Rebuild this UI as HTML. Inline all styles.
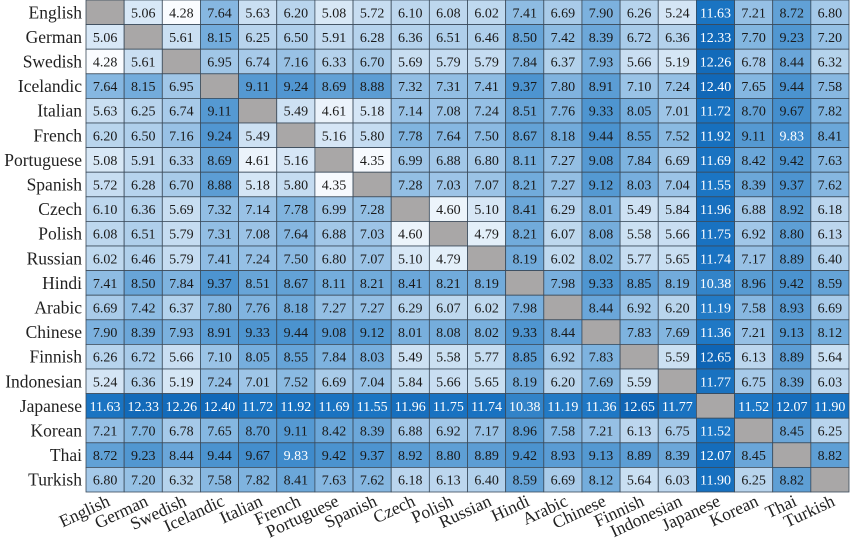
<!DOCTYPE html>
<html><head><meta charset="utf-8">
<style>
body{margin:0;background:#fff;width:850px;height:551px;overflow:hidden}
svg{display:block}
</style></head><body>
<svg id="s" width="850" height="551" xmlns="http://www.w3.org/2000/svg" font-family="Liberation Serif, serif"></svg>
<script>
const L=["English","German","Swedish","Icelandic","Italian","French","Portuguese","Spanish","Czech","Polish","Russian","Hindi","Arabic","Chinese","Finnish","Indonesian","Japanese","Korean","Thai","Turkish"];
const D=`0,5.06,4.28,7.64,5.63,6.20,5.08,5.72,6.10,6.08,6.02,7.41,6.69,7.90,6.26,5.24,11.63,7.21,8.72,6.80
5.06,0,5.61,8.15,6.25,6.50,5.91,6.28,6.36,6.51,6.46,8.50,7.42,8.39,6.72,6.36,12.33,7.70,9.23,7.20
4.28,5.61,0,6.95,6.74,7.16,6.33,6.70,5.69,5.79,5.79,7.84,6.37,7.93,5.66,5.19,12.26,6.78,8.44,6.32
7.64,8.15,6.95,0,9.11,9.24,8.69,8.88,7.32,7.31,7.41,9.37,7.80,8.91,7.10,7.24,12.40,7.65,9.44,7.58
5.63,6.25,6.74,9.11,0,5.49,4.61,5.18,7.14,7.08,7.24,8.51,7.76,9.33,8.05,7.01,11.72,8.70,9.67,7.82
6.20,6.50,7.16,9.24,5.49,0,5.16,5.80,7.78,7.64,7.50,8.67,8.18,9.44,8.55,7.52,11.92,9.11,9.83,8.41
5.08,5.91,6.33,8.69,4.61,5.16,0,4.35,6.99,6.88,6.80,8.11,7.27,9.08,7.84,6.69,11.69,8.42,9.42,7.63
5.72,6.28,6.70,8.88,5.18,5.80,4.35,0,7.28,7.03,7.07,8.21,7.27,9.12,8.03,7.04,11.55,8.39,9.37,7.62
6.10,6.36,5.69,7.32,7.14,7.78,6.99,7.28,0,4.60,5.10,8.41,6.29,8.01,5.49,5.84,11.96,6.88,8.92,6.18
6.08,6.51,5.79,7.31,7.08,7.64,6.88,7.03,4.60,0,4.79,8.21,6.07,8.08,5.58,5.66,11.75,6.92,8.80,6.13
6.02,6.46,5.79,7.41,7.24,7.50,6.80,7.07,5.10,4.79,0,8.19,6.02,8.02,5.77,5.65,11.74,7.17,8.89,6.40
7.41,8.50,7.84,9.37,8.51,8.67,8.11,8.21,8.41,8.21,8.19,0,7.98,9.33,8.85,8.19,10.38,8.96,9.42,8.59
6.69,7.42,6.37,7.80,7.76,8.18,7.27,7.27,6.29,6.07,6.02,7.98,0,8.44,6.92,6.20,11.19,7.58,8.93,6.69
7.90,8.39,7.93,8.91,9.33,9.44,9.08,9.12,8.01,8.08,8.02,9.33,8.44,0,7.83,7.69,11.36,7.21,9.13,8.12
6.26,6.72,5.66,7.10,8.05,8.55,7.84,8.03,5.49,5.58,5.77,8.85,6.92,7.83,0,5.59,12.65,6.13,8.89,5.64
5.24,6.36,5.19,7.24,7.01,7.52,6.69,7.04,5.84,5.66,5.65,8.19,6.20,7.69,5.59,0,11.77,6.75,8.39,6.03
11.63,12.33,12.26,12.40,11.72,11.92,11.69,11.55,11.96,11.75,11.74,10.38,11.19,11.36,12.65,11.77,0,11.52,12.07,11.90
7.21,7.70,6.78,7.65,8.70,9.11,8.42,8.39,6.88,6.92,7.17,8.96,7.58,7.21,6.13,6.75,11.52,0,8.45,6.25
8.72,9.23,8.44,9.44,9.67,9.83,9.42,9.37,8.92,8.80,8.89,9.42,8.93,9.13,8.89,8.39,12.07,8.45,0,8.82
6.80,7.20,6.32,7.58,7.82,8.41,7.63,7.62,6.18,6.13,6.40,8.59,6.69,8.12,5.64,6.03,11.90,6.25,8.82,0`.split("\n").map(r=>r.split(",").map(Number));
const stops=[[4.28,[250,252,255]],[5,[218,233,247]],[6,[192,217,239]],[7,[158,197,231]],[8,[120,175,221]],[9,[88,155,211]],[10,[58,136,202]],[11.5,[28,118,196]],[12.7,[14,100,180]]];
function col(v){for(let i=0;i<stops.length-1;i++){const[a,ca]=stops[i],[b,cb]=stops[i+1];if(v<=b){const t=Math.max(0,(v-a)/(b-a));return "rgb("+ca.map((c,k)=>Math.round(c+(cb[k]-c)*t)).join(",")+")";}}return "rgb(14,100,180)";}
const x0=86,y0=0,cw=38.15,ch=24.6;let h="";
for(let r=0;r<20;r++){
 h+=`<text x="82" y="${y0+r*ch+ch/2+6}" text-anchor="end" font-size="17.5" fill="#222">${L[r]}</text>`;
 for(let c=0;c<20;c++){const v=D[r][c],x=x0+c*cw,y=y0+r*ch;
  h+=`<rect x="${x}" y="${y}" width="${cw}" height="${ch}" fill="${v?col(v):'#a9a7a7'}" stroke="#3a4a5a" stroke-width="0.8"/>`;
  if(v)h+=`<text x="${x+cw/2}" y="${y+ch/2+5}" text-anchor="middle" font-size="14" fill="${v>=9.8?'#fff':'#1a1a1a'}">${v.toFixed(2)}</text>`;}
}
for(let c=0;c<20;c++){const cx=x0+c*cw+cw/2+6,cy=505;
 h+=`<text transform="translate(${cx},${cy}) rotate(-25)" text-anchor="end" font-size="17.5" fill="#222">${L[c]}</text>`;}
document.getElementById("s").innerHTML=h;
</script>
</body></html>
